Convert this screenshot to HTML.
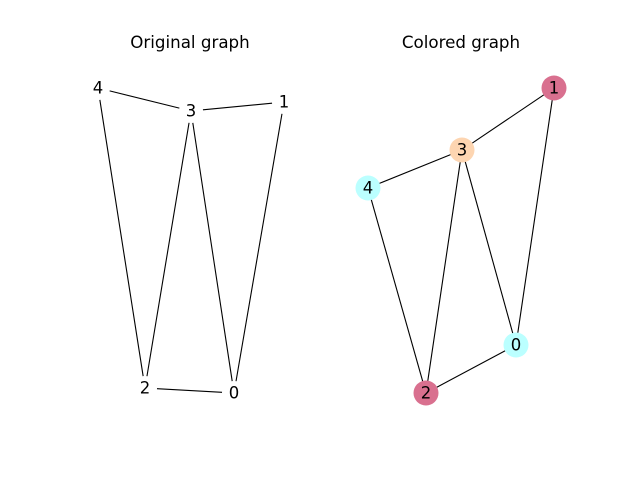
<!DOCTYPE html>
<html><head><meta charset="utf-8"><style>
html,body{margin:0;padding:0;background:#fff;}
svg{display:block;font-family:"DejaVu Sans","Liberation Sans",sans-serif;}
</style></head><body>
<svg id="chart" width="637" height="478" viewBox="0 0 637 478">
<text x="190" y="48" text-anchor="middle" font-size="16.7">Original graph</text>
<text x="461" y="48" text-anchor="middle" font-size="16.7">Colored graph</text>
<g id="left"></g><g id="right"></g>
</svg>
<script>
const nodeIds = [0, 1, 2, 3, 4];
const edgeList = [[4,3],[3,1],[4,2],[3,2],[3,0],[1,0],[2,0]];
const leftPosX = [234, 284, 145, 191, 98];
const leftPosY = [393, 102, 388, 111, 88];
const rightEdges = [[1,3],[1,0],[3,4],[3,2],[3,0],[4,2],[2,0]];
const rightPosX = [516, 554, 426, 462, 368];
const rightPosY = [345, 88, 393, 150, 188];
const nodeColorIdx = [0, 1, 1, 2, 0];
const palette = ["#bbffff", "#d9708f", "#fdd5b1"];
const NS = "http://www.w3.org/2000/svg";
const R = 12;
function mk(tag, attrs, parent){const e=document.createElementNS(NS,tag);for(const k in attrs)e.setAttribute(k,attrs[k]);parent.appendChild(e);return e;}
function draw(g, xs, ys, edges, colored, prefix){
  edges.forEach(([a,b])=>{
    let x1=xs[a],y1=ys[a],x2=xs[b],y2=ys[b];
    const dx=x2-x1,dy=y2-y1,L=Math.hypot(dx,dy),ux=dx/L*R,uy=dy/L*R;
    const l=mk('line',{x1:x1+ux,y1:y1+uy,x2:x2-ux,y2:y2-uy,stroke:'#000','stroke-width':1.1},g);
    
    
  });
  nodeIds.forEach(i=>{
    if(colored){
      const c=mk('circle',{cx:xs[i],cy:ys[i],r:12.5,fill:palette[nodeColorIdx[i]]},g);
      
      
    }
    const t=mk('text',{x:xs[i],y:ys[i]+5.5,'text-anchor':'middle','font-size':16.5},g);
    t.textContent=i;
    
    
  });
}
draw(document.getElementById('left'), leftPosX, leftPosY, edgeList, false, 'original');
draw(document.getElementById('right'), rightPosX, rightPosY, rightEdges, true, 'colored');
</script>
</body></html>
